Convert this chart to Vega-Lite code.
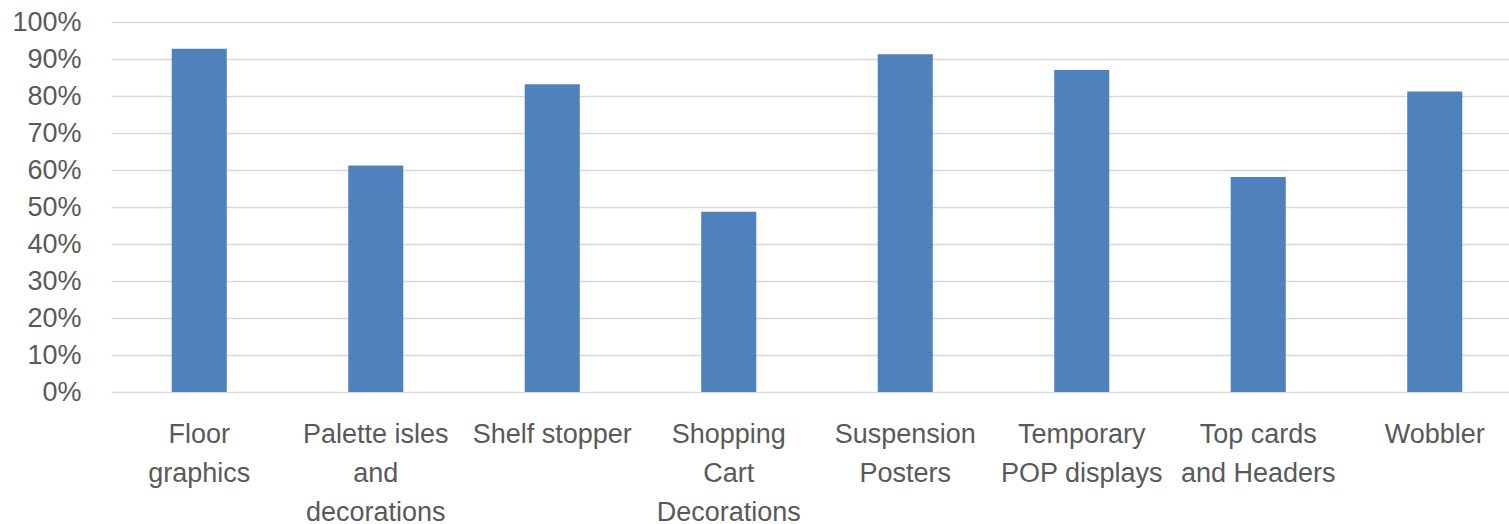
{
  "$schema": "https://vega.github.io/schema/vega-lite/v6.json",
  "width": 1412,
  "height": 370,
  "autosize": {"type": "none"},
  "padding": {"left": 111, "top": 22, "right": 0, "bottom": 132},
  "background": "white",
  "config": {"view": {"stroke": null}, "font": "Liberation Sans"},
  "data": {
    "values": [
      {"item": "Floor|graphics", "share": 0.928},
      {"item": "Palette isles|and|decorations", "share": 0.612},
      {"item": "Shelf stopper", "share": 0.832},
      {"item": "Shopping|Cart|Decorations", "share": 0.487},
      {"item": "Suspension|Posters", "share": 0.913},
      {"item": "Temporary|POP displays", "share": 0.870},
      {"item": "Top cards|and Headers", "share": 0.581},
      {"item": "Wobbler", "share": 0.812}
    ]
  },
  "mark": {"type": "bar", "color": "#4F81BD"},
  "encoding": {
    "x": {
      "field": "item",
      "type": "nominal",
      "sort": null,
      "scale": {"paddingInner": 0.688, "paddingOuter": 0.344},
      "axis": {
        "title": null,
        "labelExpr": "split(datum.label, '|')",
        "labelAngle": 0,
        "labelFontSize": 27,
        "labelColor": "#595959",
        "labelLineHeight": 39,
        "labelPadding": 29,
        "labelLimit": 300,
        "ticks": false,
        "domain": false,
        "grid": false
      }
    },
    "y": {
      "field": "share",
      "type": "quantitative",
      "scale": {"domain": [0, 1], "nice": false},
      "axis": {
        "title": null,
        "format": ".0%",
        "values": [0, 0.1, 0.2, 0.3, 0.4, 0.5, 0.6, 0.7, 0.8, 0.9, 1],
        "labelFontSize": 27,
        "labelColor": "#595959",
        "labelPadding": 30,
        "ticks": false,
        "domain": false,
        "gridColor": "#D9D9D9",
        "gridWidth": 1.5
      }
    }
  }
}
